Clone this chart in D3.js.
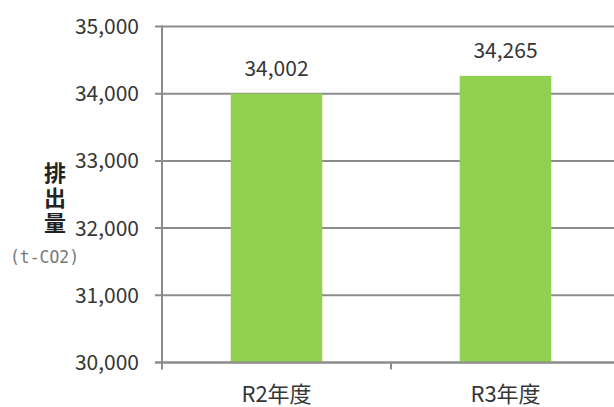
<!DOCTYPE html>
<html>
<head>
<meta charset="utf-8">
<script src="https://cdn.jsdelivr.net/npm/d3@7"></script>
<style>
  html, body { margin: 0; padding: 0; background: #fff; }
  svg { display: block; }
</style>
</head>
<body>
<svg id="chart" width="614" height="407"></svg>
<script>
// Annual CO2 emissions (t-CO2)
const categories = ["R2年度", "R3年度"];
const emissions = [34002, 34265];
const yTicks = [30000, 31000, 32000, 33000, 34000, 35000];
const yTitle = "排出量";
const yUnit = "(t-CO2)";

const svg = d3.select("#chart");
const W = 614;
const plotLeft = 162, plotTop = 26.5, plotBottom = 362.5;
const step = 229;

const numFont = "'Noto Sans CJK JP', 'Open Sans', sans-serif";
const textColor = "#363636";
const gridColor = "#8c8c8c";

const y = d3.scaleLinear().domain([30000, 35000]).range([plotBottom, plotTop]);
const x = d3.scaleBand()
  .domain(categories)
  .range([plotLeft, plotLeft + step * categories.length])
  .paddingInner(0.6)
  .paddingOuter(0.3);

// horizontal gridlines
svg.append("g")
  .selectAll("line")
  .data(yTicks)
  .join("line")
  .attr("x1", plotLeft - 7)
  .attr("x2", W)
  .attr("y1", d => y(d))
  .attr("y2", d => y(d))
  .attr("stroke", gridColor)
  .attr("stroke-width", 2);

// bars
svg.append("g")
  .selectAll("rect")
  .data(emissions)
  .join("rect")
  .attr("x", (d, i) => x(categories[i]))
  .attr("width", x.bandwidth())
  .attr("y", d => y(d))
  .attr("height", d => y(30000) - y(d))
  .attr("fill", "#92d050");

// baseline redrawn over the bars
svg.append("line")
  .attr("x1", plotLeft - 7).attr("x2", W)
  .attr("y1", y(30000)).attr("y2", y(30000))
  .attr("stroke", gridColor).attr("stroke-width", 2);

// vertical axis line
svg.append("line")
  .attr("x1", plotLeft).attr("x2", plotLeft)
  .attr("y1", y(35000) - 1).attr("y2", plotBottom + 7)
  .attr("stroke", gridColor).attr("stroke-width", 2);

// category boundary ticks
const boundaries = d3.range(1, categories.length).map(i => plotLeft + step * i);
svg.append("g")
  .selectAll("line")
  .data(boundaries)
  .join("line")
  .attr("x1", d => d).attr("x2", d => d)
  .attr("y1", plotBottom).attr("y2", plotBottom + 7)
  .attr("stroke", gridColor).attr("stroke-width", 2);

// y tick labels
const fmt = d3.format(",");
svg.append("g")
  .selectAll("text")
  .data(yTicks)
  .join("text")
  .attr("x", 139)
  .attr("y", d => y(d))
  .attr("dy", "0.36em")
  .attr("text-anchor", "end")
  .attr("font-family", numFont)
  .attr("font-size", 21)
  .attr("fill", textColor)
  .text(d => fmt(d));

// value labels
svg.append("g")
  .selectAll("text")
  .data(emissions)
  .join("text")
  .attr("x", (d, i) => x(categories[i]) + x.bandwidth() / 2)
  .attr("y", d => y(d) - 18)
  .attr("text-anchor", "middle")
  .attr("font-family", numFont)
  .attr("font-size", 21)
  .attr("fill", textColor)
  .text(d => fmt(d));

// category labels
svg.append("g")
  .selectAll("text")
  .data(categories)
  .join("text")
  .attr("x", d => x(d) + x.bandwidth() / 2)
  .attr("y", 402)
  .attr("text-anchor", "middle")
  .attr("font-family", "'Noto Sans CJK JP', sans-serif")
  .attr("font-size", 22)
  .attr("fill", textColor)
  .text(d => d);

// vertical axis title, set top-to-bottom
svg.append("text")
  .attr("x", 55)
  .attr("y", 199)
  .attr("writing-mode", "vertical-rl")
  .attr("text-anchor", "middle")
  .attr("letter-spacing", 3)
  .attr("font-family", "'Noto Sans CJK JP', sans-serif")
  .attr("font-weight", "bold")
  .attr("font-size", 22)
  .attr("fill", "#222")
  .text(yTitle);

// unit label under the title
svg.append("text")
  .attr("x", 10)
  .attr("y", 263)
  .attr("textLength", 69)
  .attr("lengthAdjust", "spacingAndGlyphs")
  .attr("font-family", "'DejaVu Sans Mono', 'Liberation Mono', monospace")
  .attr("font-size", 18)
  .attr("fill", "#777")
  .text(yUnit);
</script>
</body>
</html>
